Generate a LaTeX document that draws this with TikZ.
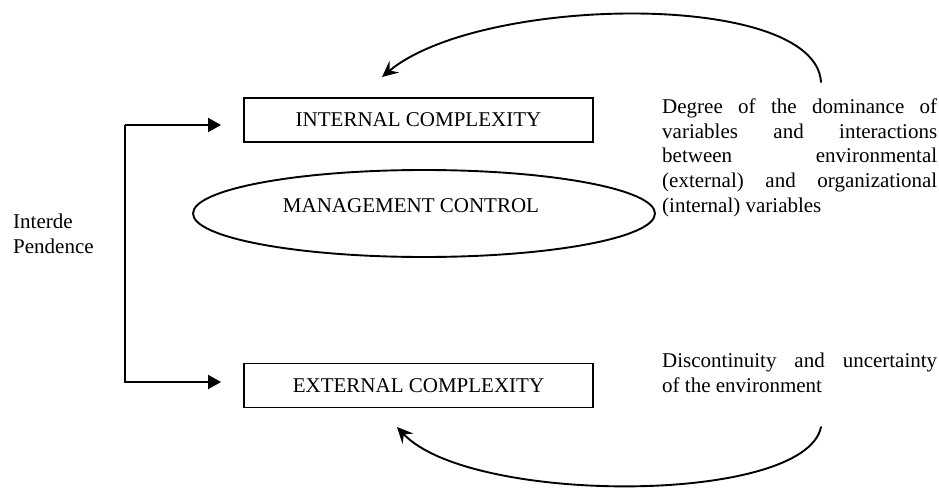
\documentclass[tikz,border=0pt]{standalone}
\usepackage{fontspec}
\setmainfont{Liberation Serif}
\usetikzlibrary{shapes.geometric,arrows.meta}
\tikzset{
  lw/.style={line width=1.9pt},
  cbox/.style={draw, lw, rectangle, minimum width=349pt, minimum height=44pt, inner sep=0pt, font=\fontsize{21}{24.75}\selectfont},
  oval/.style={draw, lw, ellipse, minimum width=462pt, minimum height=87pt, inner sep=0pt},
  txt/.style={inner sep=0pt, font=\fontsize{21}{24.75}\selectfont},
  para/.style={txt, anchor=north west, align=left},
  arr/.style={lw, -{Triangle[length=13pt,width=14pt]}},
  carr/.style={lw, line cap=round, -{Stealth[length=16pt,width=15pt,inset=6pt]}}
}
\newcommand{\jline}[1]{\makebox[275pt][s]{#1}}
\begin{document}
\begin{tikzpicture}[x=1pt,y=-1pt]
\useasboundingbox (0,0) rectangle (939,487);
% boxes
\node[cbox] (int) at (418.5,120) {INTERNAL COMPLEXITY};
\node[cbox] (ext) at (418.5,385.5) {EXTERNAL COMPLEXITY};
\node[oval] (mc) at (424,213.5) {};
\node[txt, anchor=base] (mctext) at (411,212) {MANAGEMENT CONTROL};
% left label
\node[para] (interd) at (13,213.5) {Interde\\Pendence};
% right paragraphs
\node[para] (p1) at (662,98.5) {\jline{Degree of the dominance of}\\
\jline{variables and interactions}\\
\jline{between environmental}\\
\jline{(external) and organizational}\\
(internal) variables};
\node[para] (p2) at (662,352.5) {\jline{Discontinuity and uncertainty}\\
of the environment};
% interdependence connector
\coordinate (vtop) at (125,125);
\coordinate (vbot) at (125,382);
\draw[arr, shorten >=22pt] (vtop) -- (int.west |- vtop);
\draw[arr, shorten >=22pt, line join=miter] (vtop) -- (vbot) -- (ext.west |- vbot);
% feedback arcs
\coordinate (a1s) at (821,82);
\coordinate (a1e) at (382,77);
\coordinate (a2s) at (821,427);
\coordinate (a2e) at (397,427);
\draw[carr] (a1s) .. controls (815,-10) and (480,-5) .. (a1e);
\draw[carr] (a2s) .. controls (805,505) and (470,505) .. (a2e);
\end{tikzpicture}
\end{document}
